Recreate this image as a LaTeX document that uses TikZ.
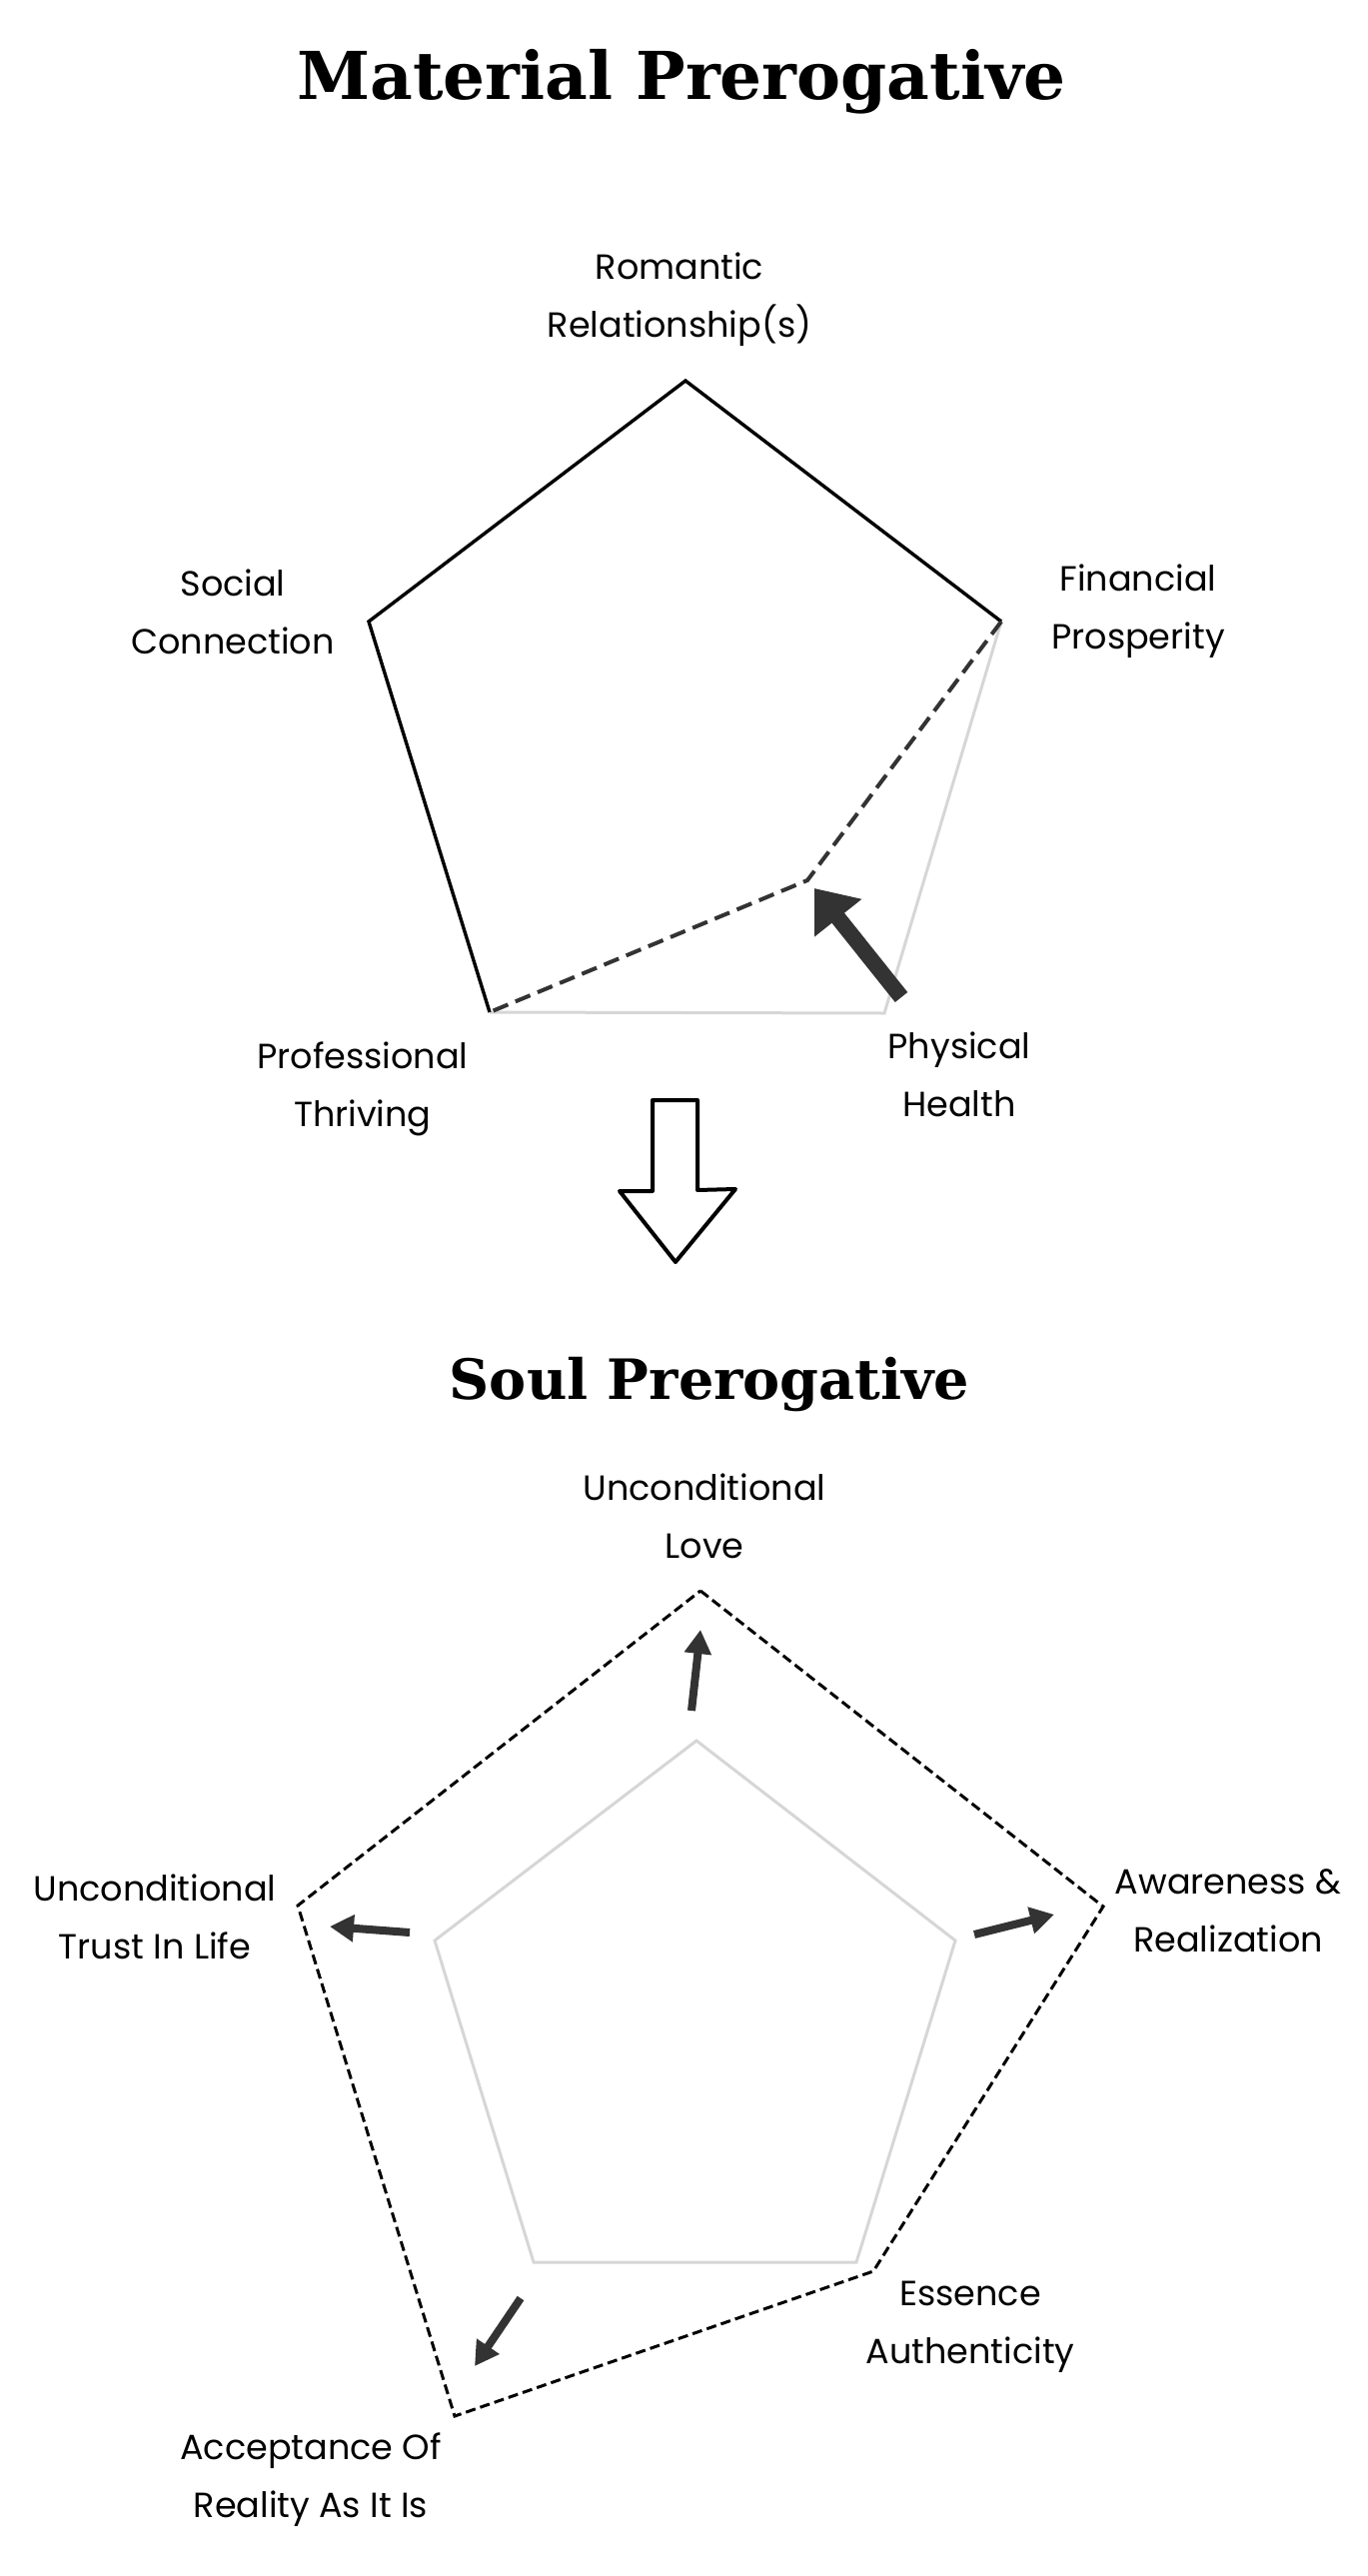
\documentclass[tikz,border=0pt]{standalone}
\usepackage{fontspec}
\setmainfont{Poppins}
\newfontfamily\titlefont{DejaVu Serif}
\usetikzlibrary{arrows.meta, positioning}
\definecolor{sketchgray}{HTML}{333333}
\definecolor{palegray}{HTML}{D6D6D6}
\tikzset{
    every node/.style={inner sep=2pt},
    heading/.style={font=\titlefont\bfseries\fontsize{33}{38}\selectfont, anchor=base},
    subheading/.style={font=\titlefont\bfseries\fontsize{27.8}{33}\selectfont, anchor=base},
    lbl/.style={align=center, font=\fontsize{17.5}{29}\selectfont},
    edge/.style={line width=1.7pt, black, line join=miter},
    faint/.style={line width=1.5pt, palegray},
    dashedge/.style={line width=2pt, sketchgray, dash pattern=on 8pt off 4pt},
    softdash/.style={line width=1.5pt, black, dash pattern=on 5pt off 2.5pt},
    push/.style={line width=8pt, sketchgray, -{Triangle[length=19pt, width=29pt]}},
    nudge/.style={line width=4pt, sketchgray, -{Triangle[length=12pt, width=13pt]}},
    bigdown/.style={line width=2pt, fill=white, line join=round}
}

\begin{document}
\begin{tikzpicture}[x=0.5pt, y=-0.5pt]
    \useasboundingbox (0,0) rectangle (1369,2578);

    % material prerogative
    \node[heading] (mtitle) at (682,100) {Material Prerogative};

    \coordinate (rom) at (686,381);
    \coordinate (soc) at (369,622);
    \coordinate (fin) at (1002,622);
    \coordinate (pro) at (490,1013);
    \coordinate (phy) at (885,1014);
    \coordinate (dip) at (808,881);

    \draw[faint] (fin) -- (phy) -- (pro);
    \draw[edge] (pro) -- (soc) -- (rom) -- (fin);
    \draw[dashedge] (fin) -- (dip) -- (pro);

    \node[lbl] (romlbl) at (680,300) {Romantic\\Relationship(s)};
    \node[lbl] (soclbl) at (233,612) {Social\\Connection};
    \node[lbl] (finlbl) at (1139,612) {Financial\\Prosperity};
    \node[lbl] (prolbl) at (363,1090) {Professional\\Thriving};
    \node[lbl] (phylbl) at (960,1075) {Physical\\Health};

    \coordinate (htail) at (902,998);
    \coordinate (htip) at (815,889);
    \draw[push] (htail) -- (htip);

    % turn
    \draw[bigdown] (653,1101) -- (698,1101) -- (698,1191) -- (736,1190)
        -- (676,1263) -- (620,1192) -- (653,1192) -- cycle;

    % soul prerogative
    \node[subheading] (stitle) at (710,1400) {Soul Prerogative};

    \coordinate (lov) at (701,1592);
    \coordinate (awa) at (1104,1908);
    \coordinate (ess) at (874,2273);
    \coordinate (acc) at (455,2418);
    \coordinate (tru) at (298,1907);

    \coordinate (ilov) at (697,1742);
    \coordinate (iawa) at (956,1942);
    \coordinate (iess) at (857,2264);
    \coordinate (iacc) at (534,2264);
    \coordinate (itru) at (435,1942);

    \draw[faint] (ilov) -- (iawa) -- (iess) -- (iacc) -- (itru) -- cycle;
    \draw[softdash] (lov) -- (awa) -- (ess) -- (acc) -- (tru) -- cycle;

    \node[lbl] (lovlbl) at (705,1517) {Unconditional\\Love};
    \node[lbl] (awalbl) at (1229,1912) {Awareness \&\\Realization};
    \node[lbl] (trulbl) at (155,1918) {Unconditional\\Trust In Life};
    \node[lbl] (esslbl) at (971,2329) {Essence\\Authenticity};
    \node[lbl] (acclbl) at (311,2482) {Acceptance Of\\Reality As It Is};

    \draw[nudge] (692,1712) -- (701,1631);
    \draw[nudge] (975,1936) -- (1055,1916);
    \draw[nudge] (410,1934) -- (330,1928);
    \draw[nudge] (521,2300) -- (475,2368);
\end{tikzpicture}
\end{document}
